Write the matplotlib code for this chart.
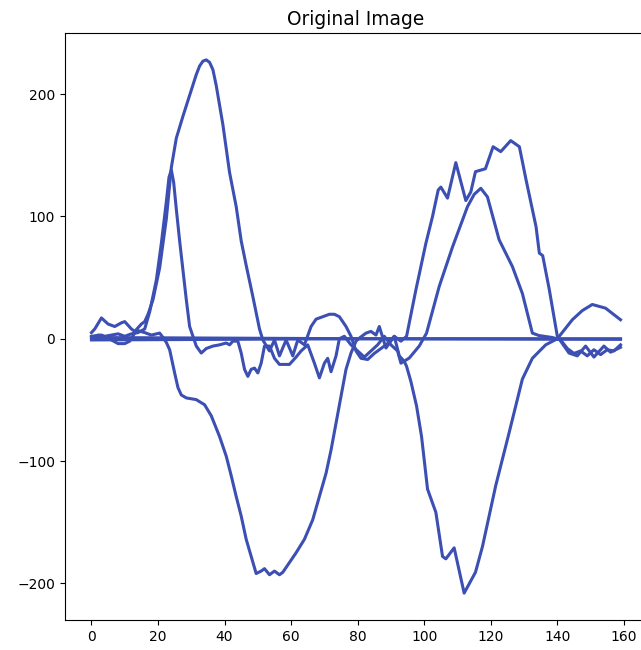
import matplotlib;
matplotlib.use('Agg');
import matplotlib.pyplot as plt;

# first signal: tall hump, small wiggles, jagged hump
x1 = [0, 1, 3, 5, 7, 9, 10, 12, 13, 15, 16, 17, 18.5, 20.5, 22.5, 24, 25.5, 27.5, 29.5, 31.5,
      32.5, 33.5, 34.5, 35.5, 36.5, 37.5, 39.5, 41.5, 43.5, 45, 46.5, 48.5, 50.5, 51.5, 53.5, 55,
      56.5, 58.5, 60.5, 62, 64, 66, 67.5, 69.5, 71.5, 73, 74.5, 76.5, 78, 79.5, 81, 83, 85, 87,
      89, 91, 93, 94.7, 97.5, 100.5, 102.5, 104.2, 105, 107, 109.5, 112.5, 114, 115.4, 118.4,
      120.7, 123, 126, 128.6, 130.6, 133.6, 134.6, 135.6, 137.6, 140, 143.5, 146, 148.5, 151,
      154, 156, 159];
y1 = [5, 8, 17, 12, 10, 13, 14, 8, 6, 12, 14, 20, 32, 58, 98, 140, 164, 182, 199, 216,
      223, 227, 228, 226, 220, 207, 175, 136, 108, 80, 60, 34.5, 8, -1, -10, -1,
      -14, -1, -14, -1, -5, 10, 16, 18, 20, 20, 18, 10, 2, -10, -16, -17, -12, -8,
      -4, 2, -2, 2, 40, 78, 100, 121.6, 124, 115, 144, 113, 120, 136.6, 139,
      157, 153, 162, 157, 130, 91.7, 70, 68, 40, 2, -11.7, -14, -6, -15,
      -6, -11, -7];

# second signal: sharp spike, wiggles, smooth hump
x2 = [0, 2, 4, 6, 8, 10, 12, 14, 16, 17.5, 19.5, 21, 22.5, 23.3, 24, 24.7, 25.5, 26.5, 27.5,
      28.5, 29.5, 31.5, 33, 34.5, 36.5, 38.5, 40.5, 41.5, 42.5, 44, 45, 46, 47, 48, 49, 50, 51,
      52, 53.5, 55, 56.5, 59.5, 61.5, 63, 65, 67, 68.5, 70, 71, 72, 73.5, 74.5, 76, 78, 80, 82,
      84, 86, 88, 90, 92, 93, 95.5, 98.5, 100.7, 104.5, 108.5, 113, 115, 117, 119, 122.5,
      126.5, 129.5, 132.5, 134.5, 138.5, 141, 143, 145, 147, 149, 151, 153, 155, 157, 159];
y2 = [1, 3, 2, 3, 4, 2, 4, 5, 8, 22, 48, 78, 112, 132, 138, 128, 106, 80, 56,
      32, 10, -6, -11.7, -8, -6, -5, -3.5, -5, -2, -2, -11.7, -25, -30.8, -25, -24, -28, -20,
      -6, -6, -16, -21, -21, -15, -10, -5, -20, -32, -20, -16, -27, -14, 0, 2, -5, -10, -15,
      -10, -5, 2, -5, -10, -20, -15.8, -6, 4.6, 42.7, 75, 108, 118, 123, 116, 81,
      59, 37, 4.6, 2.6, 1, -1, -8, -12, -10, -14, -9, -13, -9, -10, -5];

# third signal: two deep troughs
x3 = [0, 3, 6, 8, 10, 11.5, 13.5, 16, 18, 20.5, 21.5, 22.5, 23.5, 25, 26, 27, 28.5, 31.5, 34,
      36, 38.5, 40.5, 42, 43.5, 45, 46.5, 48, 49.5, 51, 52, 53.5, 55, 56.5, 57.5, 59.5, 61.5,
      64, 66.5, 68.5, 70.5, 72, 73.5, 75, 76.5, 78, 79.5, 80.5, 82.5, 84, 85.5, 86.5, 88.5,
      91, 92.5, 94, 94.7, 96, 97.7, 99.2, 101, 103.5, 105.5, 106.5, 109, 112, 115.4, 117.5,
      121.5, 125.5, 129.5, 132.5, 136.5, 140, 144.5, 147.5, 150.5, 154.5, 159];
y3 = [2, 3, -1, -4, -4, -2, 7, 5, 3, 4.6, 1, -3, -9, -28, -40, -46, -48.4, -49.8, -54,
      -63, -80, -96, -112, -129, -145, -164, -178, -192, -190, -188, -193, -190, -193, -191, -183,
      -175, -164, -148, -129, -110, -91, -69, -47, -25, -11.7, -2, 0.5, 4.6, 6, 3, 10, -7.6,
      2, -14, -18.5, -22.6, -35, -55, -80, -123, -142, -178, -180, -171, -208, -191, -170,
      -120, -77, -33, -16, -5, 0, 15.5, 23, 28, 25, 15.5];

# near-zero channels
x4 = [0, 80, 159];
y4 = [1, 0, 0];
y5 = [-1, 0, -0.5];

col = '#3c4fb2';

fig = plt.figure(figsize=(6.41, 6.5), dpi=100);
ax = fig.add_axes([65/641, 30/650, 582/641, 587/650]);

for xs, ys in [(x1, y1), (x2, y2), (x3, y3), (x4, y4), (x4, y5)]:
    ax.plot(xs, ys, color=col, lw=2.2, solid_joinstyle='round');

ax.set_xlim(-7.95, 166.95);
ax.set_ylim(-230, 250);
ax.set_xticks([0, 20, 40, 60, 80, 100, 120, 140, 160]);
ax.set_yticks([-200, -100, 0, 100, 200]);
ax.tick_params(labelsize=10);
ax.set_title('Original Image', fontsize=13.4);

fig.savefig('out.png', dpi=100);
